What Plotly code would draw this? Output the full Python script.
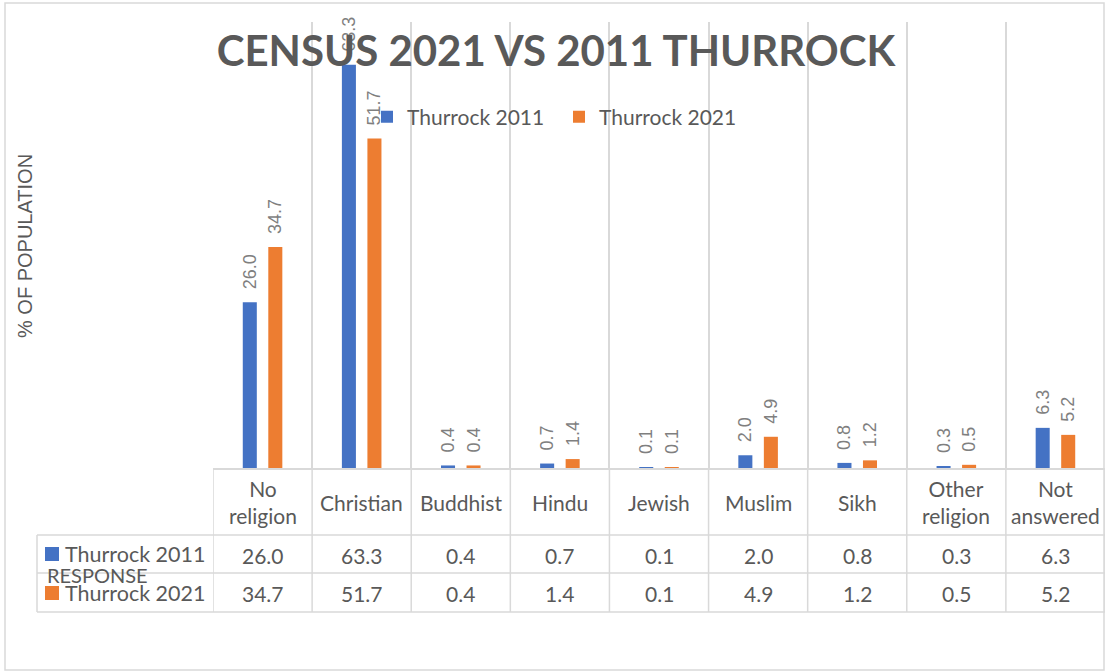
import plotly.graph_objects as go

categories = ["No religion", "Christian", "Buddhist", "Hindu", "Jewish",
              "Muslim", "Sikh", "Other religion", "Not answered"]
header_labels = ["No<br>religion", "Christian", "Buddhist", "Hindu", "Jewish",
                 "Muslim", "Sikh", "Other<br>religion", "Not<br>answered"]
series_names = ["Thurrock 2011", "Thurrock 2021"]
thurrock_2011 = [26.0, 63.3, 0.4, 0.7, 0.1, 2.0, 0.8, 0.3, 6.3]
thurrock_2021 = [34.7, 51.7, 0.4, 1.4, 0.1, 4.9, 1.2, 0.5, 5.2]
series_values = [thurrock_2011, thurrock_2021]
series_colors = ["#4472C4", "#ED7D31"]

W, H = 1107, 671
L, R, T, B = 213, 2, 22, 203
PW, PH = W - L - R, H - T - B


def px_x(px):
    return (px - L) / PW


def px_y(py):
    return (H - B - py) / PH


GRID = "#D9D9D9"
TXT = "#595959"
LBL = "#7F7F7F"

fig = go.Figure()
for name, vals, col in zip(series_names, series_values, series_colors):
    fig.add_trace(go.Bar(
        x=categories, y=vals, name=name, marker_color=col,
        marker_line_width=0,
        text=[f"\u00a0\u00a0{v:.1f}" for v in vals],
        textposition="outside", textangle=-90, constraintext="none",
        textfont=dict(family="Liberation Sans", size=18, color=LBL),
        cliponaxis=False, hoverinfo="x+y",
    ))

shapes = []
# outer chart border
shapes.append(dict(type="rect", xref="paper", yref="paper",
                   x0=px_x(5), x1=px_x(1104), y0=px_y(670), y1=px_y(3),
                   line=dict(color=GRID, width=1.5), layer="below"))
# table vertical lines below plot area at category boundaries
for i in range(len(categories) + 1):
    shapes.append(dict(type="line", xref="x", yref="paper",
                       x0=i - 0.5, x1=i - 0.5, y0=px_y(612), y1=0,
                       line=dict(color=GRID, width=1.5)))
# table left column
shapes.append(dict(type="line", xref="paper", yref="paper",
                   x0=px_x(37), x1=px_x(37), y0=px_y(612), y1=px_y(535),
                   line=dict(color=GRID, width=1.5)))
# table horizontal lines
for py in (535, 573, 612):
    shapes.append(dict(type="line", xref="paper", yref="paper",
                       x0=px_x(37), x1=1, y0=px_y(py), y1=px_y(py),
                       line=dict(color=GRID, width=1.5)))
# legend keys in table
for col, (ya, yb) in zip(series_colors, [(547, 561), (586, 600)]):
    shapes.append(dict(type="rect", xref="paper", yref="paper",
                       x0=px_x(45), x1=px_x(59), y0=px_y(yb), y1=px_y(ya),
                       line=dict(width=0), fillcolor=col))

annotations = []
tfont = dict(family="Lato", size=21, color=TXT)
for cat, hdr in zip(categories, header_labels):
    annotations.append(dict(x=cat, xref="x", y=px_y(502), yref="paper",
                            text=hdr, showarrow=False, font=tfont,
                            xanchor="center", yanchor="middle"))
for vals, py in zip(series_values, (555, 593)):
    for cat, v in zip(categories, vals):
        annotations.append(dict(x=cat, xref="x", y=px_y(py), yref="paper",
                                text=f"{v:.1f}", showarrow=False, font=tfont,
                                xanchor="center", yanchor="middle"))
for name, py in zip(series_names, (554, 593)):
    annotations.append(dict(x=px_x(63), xref="paper", y=px_y(py), yref="paper",
                            text=name, showarrow=False,
                            font=dict(family="Lato", size=21.5, color=TXT),
                            xanchor="left", yanchor="middle"))
annotations.append(dict(x=px_x(97), xref="paper", y=px_y(575), yref="paper",
                        text="RESPONSE", showarrow=False,
                        font=dict(family="Lato", size=20, color=TXT),
                        xanchor="center", yanchor="middle"))
annotations.append(dict(x=px_x(25), xref="paper", y=px_y(246), yref="paper",
                        text="% OF POPULATION", showarrow=False, textangle=-90,
                        font=dict(family="Liberation Sans", size=20, color=TXT),
                        xanchor="center", yanchor="middle"))

fig.update_layout(
    width=W, height=H,
    margin=dict(l=L, r=R, t=T, b=B, autoexpand=False),
    paper_bgcolor="white", plot_bgcolor="white",
    barmode="group", bargap=0.485, bargroupgap=0.45,
    title=dict(text="<b>CENSUS 2021 VS 2011 THURROCK</b>",
               x=556 / W, xanchor="center", y=1 - 51 / H, yanchor="middle",
               font=dict(family="Lato", size=42, color=TXT)),
    legend=dict(orientation="h", x=px_x(367), xanchor="left",
                y=px_y(117), yanchor="middle",
                font=dict(family="Lato", size=21, color=TXT),
                bgcolor="rgba(0,0,0,0)", entrywidth=147, entrywidthmode="pixels"),
    xaxis=dict(type="category", tickson="boundaries", showgrid=True,
               gridcolor=GRID, gridwidth=1.5, showticklabels=False,
               ticks="", showline=True, linecolor=GRID, linewidth=1.5,
               zeroline=False, range=[-0.5, len(categories) - 0.5]),
    yaxis=dict(range=[0, 70], visible=False, showgrid=False, zeroline=False),
    shapes=shapes, annotations=annotations,
)

fig.write_html("out.html", config={"displayModeBar": False},
               post_script="document.body.style.margin='0';"
                           "document.body.style.overflow='hidden';")
